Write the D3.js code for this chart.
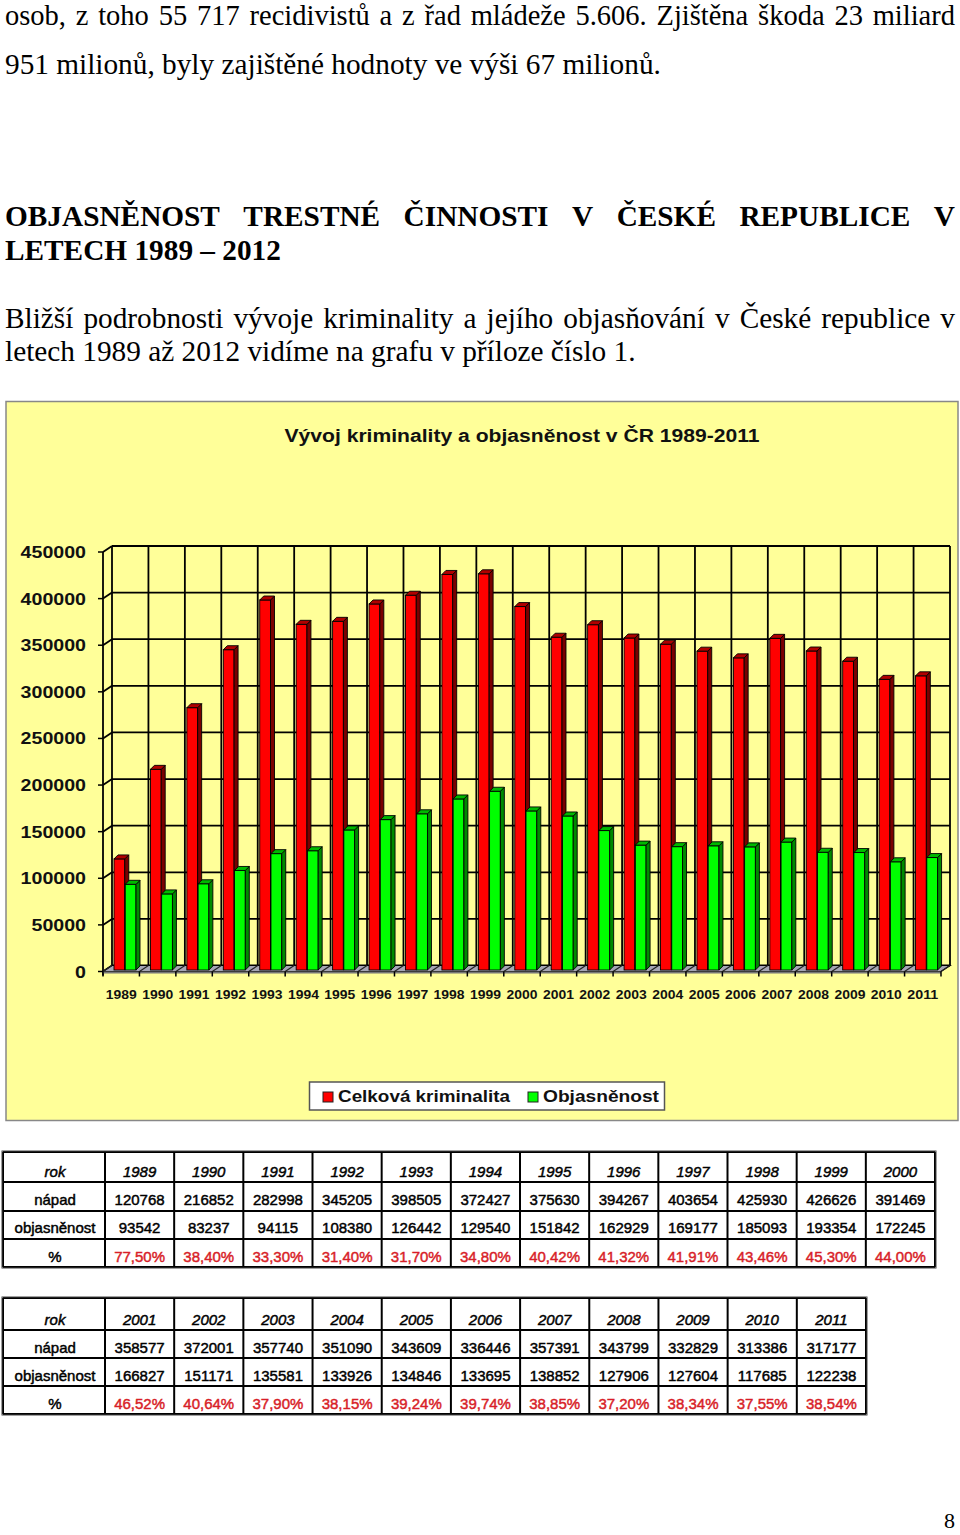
<!DOCTYPE html>
<html><head><meta charset="utf-8">
<script src="https://cdn.jsdelivr.net/npm/d3@7"></script>
<style>body{margin:0;background:#fff;} svg{display:block}</style>
</head><body>
<svg id="c" width="960" height="1535"></svg>
<script>
// ---------- data ----------
const years = [1989,1990,1991,1992,1993,1994,1995,1996,1997,1998,1999,2000,2001,2002,2003,2004,2005,2006,2007,2008,2009,2010,2011];
const napad = [120768,216852,282998,345205,398505,372427,375630,394267,403654,425930,426626,391469,358577,372001,357740,351090,343609,336446,357391,343799,332829,313386,317177];
const objasnenost = [93542,83237,94115,108380,126442,129540,151842,162929,169177,185093,193354,172245,166827,151171,135581,133926,134846,133695,138852,127906,127604,117685,122238];
const percent = ["77,50%","38,40%","33,30%","31,40%","31,70%","34,80%","40,42%","41,32%","41,91%","43,46%","45,30%","44,00%","46,52%","40,64%","37,90%","38,15%","39,24%","39,74%","38,85%","37,20%","38,34%","37,55%","38,54%"];
const yTicks = [0,50000,100000,150000,200000,250000,300000,350000,400000,450000];
const seriesNames = ["Celková kriminalita","Objasněnost"];
const rowLabels = ["rok","nápad","objasněnost","%"];
const chartTitle = "Vývoj kriminality a objasněnost v ČR 1989-2011";
const textTop = ["osob, z toho 55 717 recidivistů a z řad mládeže 5.606. Zjištěna škoda 23 miliard",
                 "951 milionů, byly zajištěné hodnoty ve výši 67 milionů."];
const heading = ["OBJASNĚNOST TRESTNÉ ČINNOSTI V ČESKÉ REPUBLICE V","LETECH 1989 – 2012"];
const para = ["Bližší podrobnosti vývoje kriminality a jejího objasňování v České republice v",
              "letech 1989 až 2012 vidíme na grafu v příloze číslo 1."];

const svg = d3.select("#c");
const serif = "'Liberation Serif','Times New Roman',serif";
const sans = "'Liberation Sans',Arial,sans-serif";

// ---------- page text ----------
function textLine(str, x0, x1, y, size, weight, justify) {
  const g = svg.append("g").attr("font-family", serif).attr("font-size", size).attr("font-weight", weight).attr("fill","#000");
  if (!justify) { g.append("text").attr("x", x0).attr("y", y).text(str); return; }
  const words = str.split(" ");
  const nodes = words.map(w => g.append("text").attr("y", y).text(w));
  const widths = nodes.map(n => n.node().getComputedTextLength());
  const gap = (x1 - x0 - d3.sum(widths)) / (words.length - 1);
  let x = x0;
  nodes.forEach((n, i) => { n.attr("x", x); x += widths[i] + gap; });
}
textLine(textTop[0], 5, 955, 25, 28.5, "normal", true);
textLine(textTop[1], 5, 955, 74, 29.3, "normal", false);
textLine(heading[0], 5, 955, 226, 29.3, "bold", true);
textLine(heading[1], 5, 955, 260, 29.3, "bold", false);
textLine(para[0], 5, 955, 328, 29.3, "normal", true);
textLine(para[1], 5, 955, 361, 29.3, "normal", false);
svg.append("text").attr("x", 955).attr("y", 1528).attr("text-anchor","end")
  .attr("font-family", serif).attr("font-size", 22).text("8");

// ---------- chart ----------
const chart = svg.append("g");
chart.append("rect").attr("x", 6).attr("y", 401.5).attr("width", 952).attr("height", 719)
  .attr("fill", "#FFFF99").attr("stroke", "#888").attr("stroke-width", 1.5);
chart.append("text").attr("x", 522).attr("y", 442).attr("text-anchor","middle")
  .attr("font-family", sans).attr("font-weight","bold").attr("font-size", 18)
  .attr("textLength", 475).attr("lengthAdjust","spacingAndGlyphs").attr("fill","#111").text(chartTitle);

const x = d3.scaleBand().domain(years).range([103, 941]);
const y = d3.scaleLinear().domain([0, 450000]).range([971.5, 552]);
const xs = d3.scaleBand().domain(seriesNames).range([11, 33]).paddingInner(0.04);
const DX = 9, DY = -6, BD = 4;
const x0 = x.range()[0], x1 = x.range()[1];

// back wall gridlines
const grid = chart.append("g").attr("stroke","#000").attr("stroke-width",1.8).attr("fill","none");
yTicks.forEach(t => {
  grid.append("line").attr("x1", x0 + DX).attr("x2", x1 + DX).attr("y1", y(t) + DY).attr("y2", y(t) + DY);
  grid.append("line").attr("x1", x0).attr("x2", x0 + DX).attr("y1", y(t)).attr("y2", y(t) + DY);
});
years.concat(["end"]).forEach((d, i) => {
  const xx = x0 + i * x.step() + DX;
  grid.append("line").attr("x1", xx).attr("x2", xx).attr("y1", y(450000) + DY).attr("y2", y(0) + DY);
});
grid.append("line").attr("x1", x0).attr("x2", x0).attr("y1", y(450000)).attr("y2", y(0) + 4);

// floor
chart.append("path")
  .attr("d", `M${x0},${y(0)}L${x1},${y(0)}L${x1+DX},${y(0)+DY}L${x0+DX},${y(0)+DY}Z`)
  .attr("fill", "#A6A6B4").attr("stroke","#000").attr("stroke-width",1.2);
chart.append("path")
  .attr("d", `M${x0},${y(0)}L${x1},${y(0)}L${x1},${y(0)+2}L${x0},${y(0)+2}Z`)
  .attr("fill", "#777").attr("stroke","none");
years.concat(["end"]).forEach((d, i) => {
  const xx = x0 + i * x.step();
  chart.append("line").attr("x1", xx).attr("x2", xx + DX).attr("y1", y(0)).attr("y2", y(0) + DY)
    .attr("stroke","#222").attr("stroke-width",1.2);
  chart.append("line").attr("x1", xx).attr("x2", xx).attr("y1", y(0)).attr("y2", y(0) + 5)
    .attr("stroke","#000").attr("stroke-width",1.5);
});

// y ticks + labels
yTicks.forEach(t => {
  chart.append("line").attr("x1", x0 - 5).attr("x2", x0).attr("y1", y(t)).attr("y2", y(t))
    .attr("stroke","#000").attr("stroke-width",1.5);
  const s = String(t);
  chart.append("text").attr("x", 86).attr("y", y(t) + 6).attr("text-anchor","end")
    .attr("font-family", sans).attr("font-weight","bold").attr("font-size", 16.5)
    .attr("textLength", s.length * 10.9).attr("lengthAdjust","spacingAndGlyphs")
    .attr("fill","#111").text(s);
});

// bars
const palette = {
  "Celková kriminalita": {front:"#FF0000", side:"#7A0000", top:"#B00000"},
  "Objasněnost": {front:"#00FF00", side:"#008A00", top:"#00B800"}
};
function bar3d(g, bx, w, yTop, yBot, c) {
  g.append("rect").attr("x", bx).attr("y", yTop).attr("width", w).attr("height", yBot - yTop)
    .attr("fill", c.front).attr("stroke","#000").attr("stroke-width",0.9);
  g.append("path").attr("d", `M${bx+w},${yTop}L${bx+w+BD},${yTop-BD}L${bx+w+BD},${yBot-BD}L${bx+w},${yBot}Z`)
    .attr("fill", c.side).attr("stroke","#000").attr("stroke-width",0.9);
  g.append("path").attr("d", `M${bx},${yTop}L${bx+BD},${yTop-BD}L${bx+w+BD},${yTop-BD}L${bx+w},${yTop}Z`)
    .attr("fill", c.top).attr("stroke","#000").attr("stroke-width",0.9);
}
const bars = chart.append("g");
years.forEach((yr, i) => {
  [napad[i], objasnenost[i]].forEach((v, k) => {
    const s = seriesNames[k];
    bar3d(bars, x(yr) + xs(s), xs.bandwidth(), y(v), y(0) - 1.5, palette[s]);
  });
});

// x labels
years.forEach(yr => {
  chart.append("text").attr("x", x(yr) + x.bandwidth()/2).attr("y", 999).attr("text-anchor","middle")
    .attr("font-family", sans).attr("font-weight","bold").attr("font-size", 13.5)
    .attr("textLength", 31).attr("lengthAdjust","spacingAndGlyphs").attr("fill","#111").text(yr);
});

// legend
const lg = chart.append("g");
lg.append("rect").attr("x", 309.5).attr("y", 1082).attr("width", 355).attr("height", 28)
  .attr("fill","#fff").attr("stroke","#555").attr("stroke-width",1.5);
const legendX = [323, 528];
const legendLen = [172, 116];
seriesNames.forEach((s, k) => {
  lg.append("rect").attr("x", legendX[k]).attr("y", 1092).attr("width", 10).attr("height", 10)
    .attr("fill", palette[s].front).attr("stroke","#222").attr("stroke-width",1);
  lg.append("text").attr("x", legendX[k] + 15).attr("y", 1102)
    .attr("font-family", sans).attr("font-weight","bold").attr("font-size", 16.5)
    .attr("textLength", legendLen[k]).attr("lengthAdjust","spacingAndGlyphs")
    .attr("fill","#111").text(s);
});

// ---------- tables ----------
function table(startIdx, count, left, right, rowsY, baselines) {
  const yrs = years.slice(startIdx, startIdx + count);
  const cx = d3.scaleBand().domain(yrs).range([105, right]);
  const g = svg.append("g");
  const rows = [
    yrs.map(String),
    napad.slice(startIdx, startIdx + count).map(String),
    objasnenost.slice(startIdx, startIdx + count).map(String),
    percent.slice(startIdx, startIdx + count)
  ];
  const ln = g.append("g").attr("stroke","#000").attr("stroke-width",2);
  rowsY.forEach(ry => ln.append("line").attr("x1", left).attr("x2", right).attr("y1", ry).attr("y2", ry));
  [left, 105].concat(yrs.map(d => cx(d) + cx.bandwidth())).forEach(vx =>
    ln.append("line").attr("x1", vx).attr("x2", vx).attr("y1", rowsY[0]).attr("y2", rowsY[rowsY.length-1]));
  g.append("rect").attr("x", left - 1).attr("y", rowsY[0] - 1).attr("width", right - left + 2)
    .attr("height", rowsY[rowsY.length-1] - rowsY[0] + 2).attr("fill","none").attr("stroke","#444").attr("stroke-width",1);
  rowLabels.forEach((lab, r) => {
    const style = (t, red) => t.attr("font-family", sans).attr("font-size", 15).attr("text-anchor","middle")
      .attr("font-style", r === 0 ? "italic" : "normal")
      .attr("fill", red ? "#D81E28" : "#000")
      .attr("stroke", red ? "#D81E28" : "#000").attr("stroke-width", 0.45);
    g.append("text").attr("x", (left + 105) / 2 + 1).attr("y", baselines[r]).call(style, false).text(lab);
    rows[r].forEach((val, i) => {
      g.append("text").attr("x", cx(yrs[i]) + cx.bandwidth()/2).attr("y", baselines[r]).call(style, r === 3).text(val);
    });
  });
}
table(0, 12, 3, 935, [1152, 1182, 1211, 1239, 1267], [1177, 1205, 1233, 1262]);
table(12, 11, 3, 866, [1298, 1330, 1358, 1386, 1414], [1325, 1353, 1381, 1409]);
</script>
</body></html>
